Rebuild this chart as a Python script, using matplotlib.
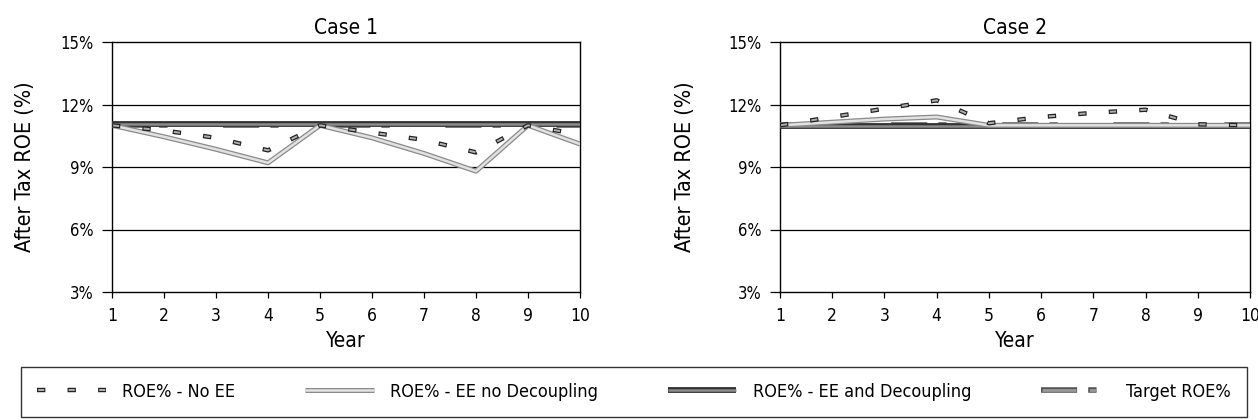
import numpy as np
import matplotlib.pyplot as plt
from matplotlib.lines import Line2D
from matplotlib.ticker import FuncFormatter

plt.rcParams['font.family'] = ['DejaVu Sans']
plt.rcParams['font.stretch'] = 'condensed'
plt.rcParams['lines.scale_dashes'] = False

anos = [1, 2, 3, 4, 5, 6, 7, 8, 9, 10]

# Case 1
c1_sem_ee = [11.0, 10.75, 10.4, 9.8, 11.0, 10.65, 10.3, 9.7, 11.0, 10.55]
c1_ee_sem_desac = [11.0, 10.45, 9.85, 9.2, 11.0, 10.4, 9.65, 8.8, 11.0, 10.1]
c1_ee_desac = [11.05, 11.05, 11.05, 11.05, 11.05, 11.05, 11.05, 11.05, 11.05, 11.05]
c1_meta = [11.0, 11.0, 11.0, 11.0, 11.0, 11.0, 11.0, 11.0, 11.0, 11.0]

# Case 2
c2_sem_ee = [11.0, 11.4, 11.8, 12.2, 11.1, 11.4, 11.6, 11.75, 11.05, 11.0]
c2_ee_sem_desac = [11.0, 11.15, 11.3, 11.4, 11.0, 11.0, 11.0, 11.0, 11.0, 11.0]
c2_ee_desac = [10.95, 10.95, 10.95, 10.95, 10.95, 10.95, 10.95, 10.95, 10.95, 10.95]
c2_meta = [11.0, 11.0, 11.0, 11.0, 11.0, 11.0, 11.0, 11.0, 11.0, 11.0]

rotulos = ['ROE% - No EE', 'ROE% - EE no Decoupling',
           'ROE% - EE and Decoupling', 'Target ROE%']
yticks = [3, 6, 9, 12, 15]

# estilos (borda, miolo)
TRACO_FORA = dict(color='#222222', lw=3.2, linestyle=(0, (6, 16)), dash_capstyle='butt')
TRACO_DENTRO = dict(color='#b0b0b0', lw=1.4, linestyle=(21.2, (4.4, 17.6)), dash_capstyle='butt')
EESD_FORA = dict(color='#8a8a8a', lw=3.6, solid_capstyle='butt')
EESD_DENTRO = dict(color='#e2e2e2', lw=1.8, solid_capstyle='butt')
EED_FORA = dict(color='#333333', lw=4.2, solid_capstyle='butt')
EED_DENTRO = dict(color='#8c8c8c', lw=1.8, solid_capstyle='butt')
META_FORA = dict(color='#555555', lw=4.0, linestyle=(0, (26, 8, 6, 40)), dash_capstyle='butt')
META_DENTRO = dict(color='#999999', lw=2.0, linestyle=(79.2, (24.4, 9.6, 4.4, 41.6)),
                   dash_capstyle='butt')


def linha_dupla(ax, x, y, fora, dentro, z):
    """Desenha linha 'oca' (borda escura + miolo claro)."""
    ax.plot(x, y, zorder=z, **fora)
    ax.plot(x, y, zorder=z + 0.1, **dentro)


def desenhar(ax, titulo, sem_ee, ee_sem_desac, ee_desac, meta):
    for g in [6, 9, 12]:
        ax.axhline(g, color='black', lw=0.9, zorder=1)
    linha_dupla(ax, anos, meta, META_FORA, META_DENTRO, 3)
    linha_dupla(ax, anos, ee_desac, EED_FORA, EED_DENTRO, 4)
    linha_dupla(ax, anos, ee_sem_desac, EESD_FORA, EESD_DENTRO, 5)
    linha_dupla(ax, anos, sem_ee, TRACO_FORA, TRACO_DENTRO, 6)
    ax.set_xlim(1, 10)
    ax.set_ylim(3, 15)
    ax.set_xticks(anos)
    ax.set_yticks(yticks)
    ax.yaxis.set_major_formatter(FuncFormatter(lambda v, p: f'{v:.0f}%'))
    ax.tick_params(axis='y', length=7, width=0.9, labelsize=12, pad=6)
    ax.tick_params(axis='x', length=4, width=0.9, labelsize=12.5, pad=7)
    for s in ax.spines.values():
        s.set_linewidth(1.0)
    ax.set_title(titulo, fontsize=15, pad=6)
    ax.set_xlabel('Year', fontsize=15, labelpad=4)
    ax.set_ylabel('After Tax ROE (%)', fontsize=15.5)


fig = plt.figure(figsize=(12.58, 4.2), dpi=100)
ax1 = fig.add_axes([112 / 1258, 128 / 420, 468 / 1258, 250 / 420])
ax2 = fig.add_axes([780 / 1258, 128 / 420, 470 / 1258, 250 / 420])

desenhar(ax1, 'Case 1', c1_sem_ee, c1_ee_sem_desac, c1_ee_desac, c1_meta)
desenhar(ax2, 'Case 2', c2_sem_ee, c2_ee_sem_desac, c2_ee_desac, c2_meta)
ax1.yaxis.set_label_coords(-0.165, 0.5)
ax2.yaxis.set_label_coords(-0.18, 0.5)

# legenda com alças sobrepostas
alcas = [(Line2D([], [], **TRACO_FORA), Line2D([], [], **TRACO_DENTRO)),
         (Line2D([], [], **EESD_FORA), Line2D([], [], **EESD_DENTRO)),
         (Line2D([], [], **EED_FORA), Line2D([], [], **EED_DENTRO)),
         (Line2D([], [], **META_FORA), Line2D([], [], **META_DENTRO))]

leg = fig.legend(alcas, rotulos, ncol=4, loc='lower left',
                 bbox_to_anchor=(21 / 1258, 3 / 420, 1226 / 1258, 47 / 420),
                 mode='expand', fontsize=13, frameon=True, fancybox=False,
                 edgecolor='black', handlelength=3.8, handletextpad=0.9,
                 borderaxespad=0, borderpad=0.9)
leg.get_frame().set_linewidth(1.0)

fig.savefig('out.png', dpi=100)
